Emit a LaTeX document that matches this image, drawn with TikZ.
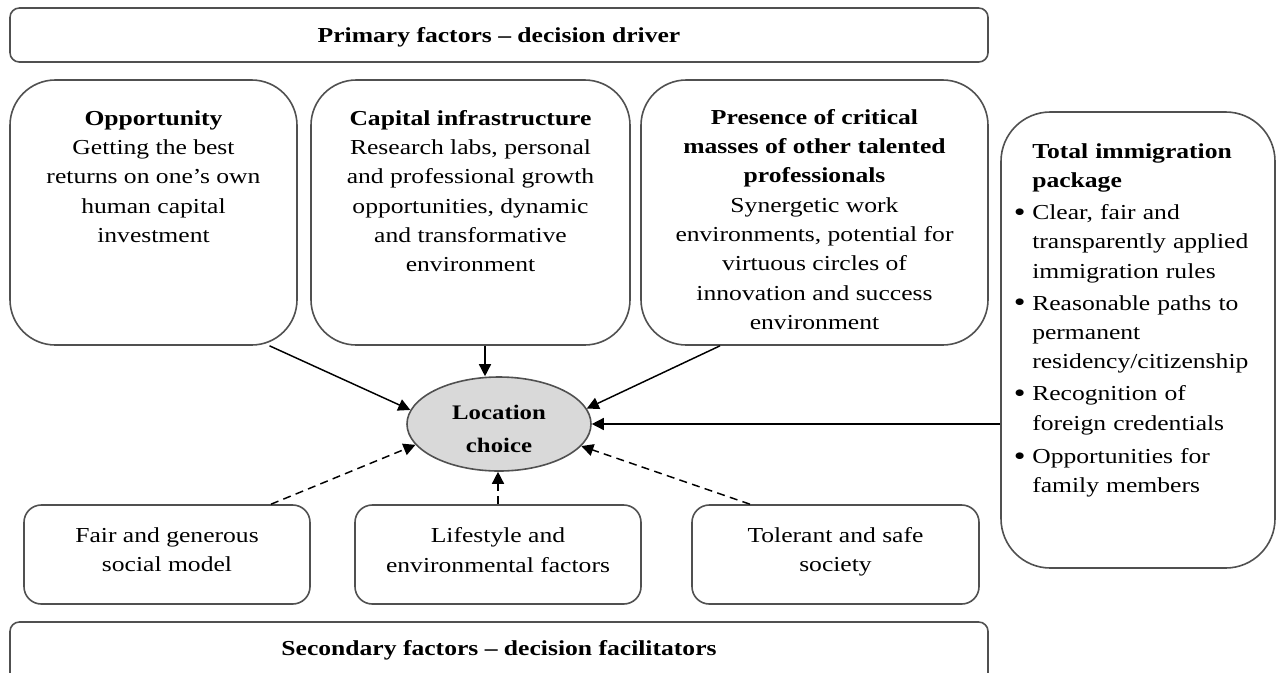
\documentclass[tikz,border=0pt]{standalone}
\usepackage{fontspec}
\setmainfont{Liberation Serif}[FakeStretch=1.2]
\usetikzlibrary{arrows.meta,fit,calc,shapes.geometric}
\definecolor{boxline}{HTML}{505050}
\definecolor{ellfill}{HTML}{D9D9D9}
\newcommand{\bul}{\leavevmode\llap{\raisebox{-1.2pt}{\fontsize{21}{22}\selectfont\textbullet}\hspace{5pt}}}
\begin{document}
\begin{tikzpicture}[x=0.75pt,y=-0.75pt,
  box/.style={draw=boxline, line width=1.2pt, inner sep=0pt},
  bigbox/.style={box, rounded corners=34pt},
  totbox/.style={box, rounded corners=37pt},
  smallbox/.style={box, rounded corners=13pt},
  banner/.style={box, rounded corners=7pt},
  txt/.style={font=\fontsize{16}{22}\selectfont, inner sep=0pt, align=center},
  btxt/.style={txt, font=\bfseries\fontsize{16}{22}\selectfont},
  arr/.style={line width=1.1pt, -{Triangle[length=9pt,width=9pt]}},
  dasharr/.style={arr, dash pattern=on 6pt off 4pt}]
\useasboundingbox (0,0) rectangle (1278,672);
\clip (0,0) rectangle (1278,672);

% banners
\node[banner, fit={(10,8) (988,62)}] (top) {};
\node[btxt] (toptxt) at (499,37) {Primary factors – decision driver};
\node[banner, fit={(10,622) (988,700)}] (bot) {};
\node[btxt] (bottxt) at (499,650) {Secondary factors – decision facilitators};

% primary boxes
\node[bigbox, fit={(10,80) (297,345)}] (opp) {};
\node[txt, anchor=north] (opptxt) at (153.5,110) {\textbf{Opportunity}\\Getting the best\\returns on one’s own\\human capital\\investment};
\node[bigbox, fit={(311,80) (630,345)}] (cap) {};
\node[txt, anchor=north] (captxt) at (470.5,110) {\textbf{Capital infrastructure}\\Research labs, personal\\and professional growth\\opportunities, dynamic\\and transformative\\environment};
\node[bigbox, fit={(641,80) (988,345)}] (pres) {};
\node[txt, anchor=north] (prestxt) at (814.5,109) {\textbf{Presence of critical}\\\textbf{masses of other talented}\\\textbf{professionals}\\Synergetic work\\environments, potential for\\virtuous circles of\\innovation and success\\environment};

% total immigration package
\node[totbox, fit={(1001,112) (1275,568)}] (tot) {};
\node[txt, align=left, text width=178pt, anchor=north west] (tottxt) at (1032,143)
  {\textbf{Total immigration}\\\textbf{package}\\[2pt]
   \bul Clear, fair and\\transparently applied\\immigration rules\\[2pt]
   \bul Reasonable paths to\\permanent\\residency/citizenship\\[2pt]
   \bul Recognition of\\foreign credentials\\[3pt]
   \bul Opportunities for\\family members};

% secondary boxes
\node[smallbox, fit={(24,505) (310,604)}] (fair) {};
\node[txt] (fairtxt) at (167,550) {Fair and generous\\social model};
\node[smallbox, fit={(355,505) (641,604)}] (life) {};
\node[txt] (lifetxt) at (498,550) {Lifestyle and\\environmental factors};
\node[smallbox, fit={(692,505) (979,604)}] (tol) {};
\node[txt] (toltxt) at (835.5,552) {Tolerant and safe\\society};

% central ellipse
\node[ellipse, draw=boxline, fill=ellfill, line width=1.2pt, minimum width=138pt, minimum height=70.5pt, inner sep=0pt] (loc) at (499,424) {};
\node[txt, font=\bfseries\fontsize{15.5}{25}\selectfont] (loctxt) at (499,429) {Location\\choice};

% connectors
\draw[arr] ($(opp.south)+(116,0)$) -- (loc.171);
\coordinate (capout) at ($(cap.south)+(14.5,0)$);
\draw[arr] (capout) -- (capout |- loc.north);
\draw[arr] ($(pres.south)+(-94.5,0)$) -- (loc.10);
\draw[arr] (tot.west |- loc.east) -- (loc.east);
\draw[dasharr] ($(fair.north)+(104,0)$) -- (loc.194);
\draw[dasharr] (life.north) -- (life.north |- loc.south);
\draw[dasharr] ($(tol.north)+(-85.5,0)$) -- (loc.-15);
\end{tikzpicture}
\end{document}
